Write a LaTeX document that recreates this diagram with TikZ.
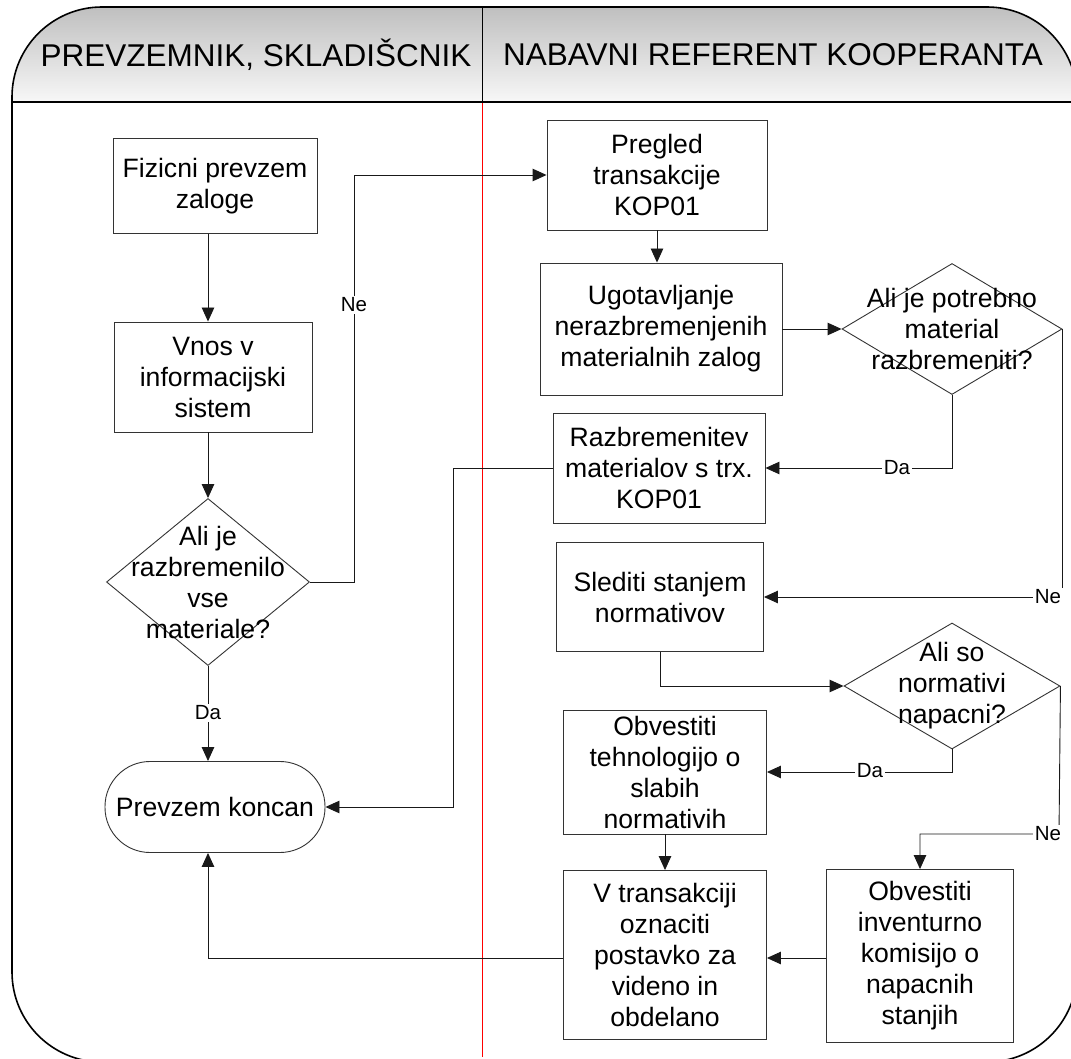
\documentclass[tikz,border=0pt]{standalone}
\usepackage{fontspec}
\setmainfont{Liberation Sans}
\usetikzlibrary{shapes.geometric,arrows.meta}
\begin{document}
\begin{tikzpicture}[x=1pt,y=-1pt,
  boxtext/.style={font=\fontsize{26.6}{31}\selectfont, align=center},
  proc/.style={boxtext, draw=black!80, line width=0.9pt, fill=white, inner sep=0pt},
  term/.style={proc, rounded corners=45pt},
  dec/.style={diamond, draw=black!80, line width=0.9pt, fill=white, inner sep=0pt},
  dtext/.style={boxtext, inner sep=0pt},
  flow/.style={draw=black!90, line width=0.9pt},
  arr/.style={flow, -{Triangle[length=14pt,width=12.5pt]}},
  tag/.style={font=\fontsize{20.5}{23}\selectfont, fill=white, inner sep=2pt},
  lane/.style={font=\fontsize{31.5}{36}\selectfont}
]
\useasboundingbox (0,0) rectangle (1071,1059);

% swimlane frame with shaded header band
\fill[white, rounded corners=90pt] (12,7) rectangle (1077,1062);
\begin{scope}
  \clip[rounded corners=90pt] (12,7) rectangle (1077,1062);
  \shade[top color=black!25, bottom color=black!3] (0,7) rectangle (1090,102);
\end{scope}
\draw[red, line width=0.8pt] (482,102) -- (482,1057);
\draw[line width=1pt] (482,7) -- (482,102);
\draw[line width=1.6pt] (12,102) -- (1077,102);
\draw[line width=1.6pt, rounded corners=90pt] (12,7) rectangle (1077,1062);

\node[lane] (laneL) at (256,55) {PREVZEMNIK, SKLADIŠCNIK};
\node[lane] (laneR) at (773,55) {NABAVNI REFERENT KOOPERANTA};

% left lane
\node[proc, minimum width=204pt, minimum height=95pt] (A) at (215,186) {Fizicni prevzem\\zaloge};
\node[proc, minimum width=198pt, minimum height=110pt] (B) at (213,377) {Vnos v\\informacijski\\sistem};
\node[dec, minimum width=203pt, minimum height=167pt] (C) at (208,582) {};
\node[dtext] (Ct) at (208,582) {Ali je\\razbremenilo\\vse\\materiale?};
\node[term, minimum width=220pt, minimum height=91pt] (T) at (215,807) {Prevzem koncan};

% right lane
\node[proc, minimum width=220pt, minimum height=110pt] (D) at (657,175) {Pregled\\transakcije\\KOP01};
\node[proc, minimum width=242pt, minimum height=132pt] (E) at (661,329) {Ugotavljanje\\nerazbremenjenih\\materialnih zalog};
\node[dec, minimum width=220pt, minimum height=131pt] (F) at (952,329) {};
\node[dtext] (Ft) at (952,329) {Ali je potrebno\\material\\razbremeniti?};
\node[proc, minimum width=212pt, minimum height=110pt] (G) at (659,468) {Razbremenitev\\materialov s trx.\\KOP01};
\node[proc, minimum width=207pt, minimum height=109pt] (H) at (660,597) {Slediti stanjem\\normativov};
\node[dec, minimum width=216pt, minimum height=126pt] (I) at (952,686) {};
\node[dtext] (It) at (952,686) {Ali so\\normativi\\napacni?};
\node[proc, minimum width=203pt, minimum height=124pt] (J) at (665,772) {Obvestiti\\tehnologijo o\\slabih\\normativih};
\node[proc, minimum width=203pt, minimum height=169pt] (K) at (665,955) {V transakciji\\oznaciti\\postavko za\\videno in\\obdelano};
\node[proc, minimum width=187pt, minimum height=173pt] (L) at (920,956) {Obvestiti\\inventurno\\komisijo o\\napacnih\\stanjih};

% connectors
\draw[arr] (A.south -| C.north) -- (B.north -| C.north);
\draw[arr] (B.south -| C.north) -- (C.north);
\draw[arr] (C.east) -- (354,582) -- (354,175) -- (D.west);
\node[tag] (ne1) at (354,305) {Ne};
\draw[arr] (C.south) -- (T.north -| C.south);
\node[tag] (da1) at (208,713) {Da};

\draw[arr] (D.south) -- (D.south |- E.north);
\draw[arr] (E.east) -- (F.west);
\draw[arr] (F.south) -- (F.south |- G.east) -- (G.east);
\node[tag] (da2) at (897,468) {Da};
\draw[arr] (G.west) -- (453,468) -- (453,807) -- (T.east);
\draw[arr] (F.east) -- (F.east |- H.east) -- (H.east);
\node[tag] (ne2) at (1048,597) {Ne};
\draw[arr] (H.south) -- (H.south |- I.west) -- (I.west);
\draw[arr] (I.south) -- (I.south |- J.east) -- (J.east);
\node[tag] (da3) at (870,771) {Da};
\draw[arr] (J.south) -- (J.south |- K.north);
\draw[arr] (I.east) -- (1059,834) -- (920,834) -- (L.north);
\node[tag] (ne3) at (1048,834) {Ne};
\draw[arr] (L.west |- 0,958) -- (K.east |- 0,958);
\draw[arr] (K.west |- 0,958) -- (208,958) -- (T.south -| 208,0);
\end{tikzpicture}
\end{document}
